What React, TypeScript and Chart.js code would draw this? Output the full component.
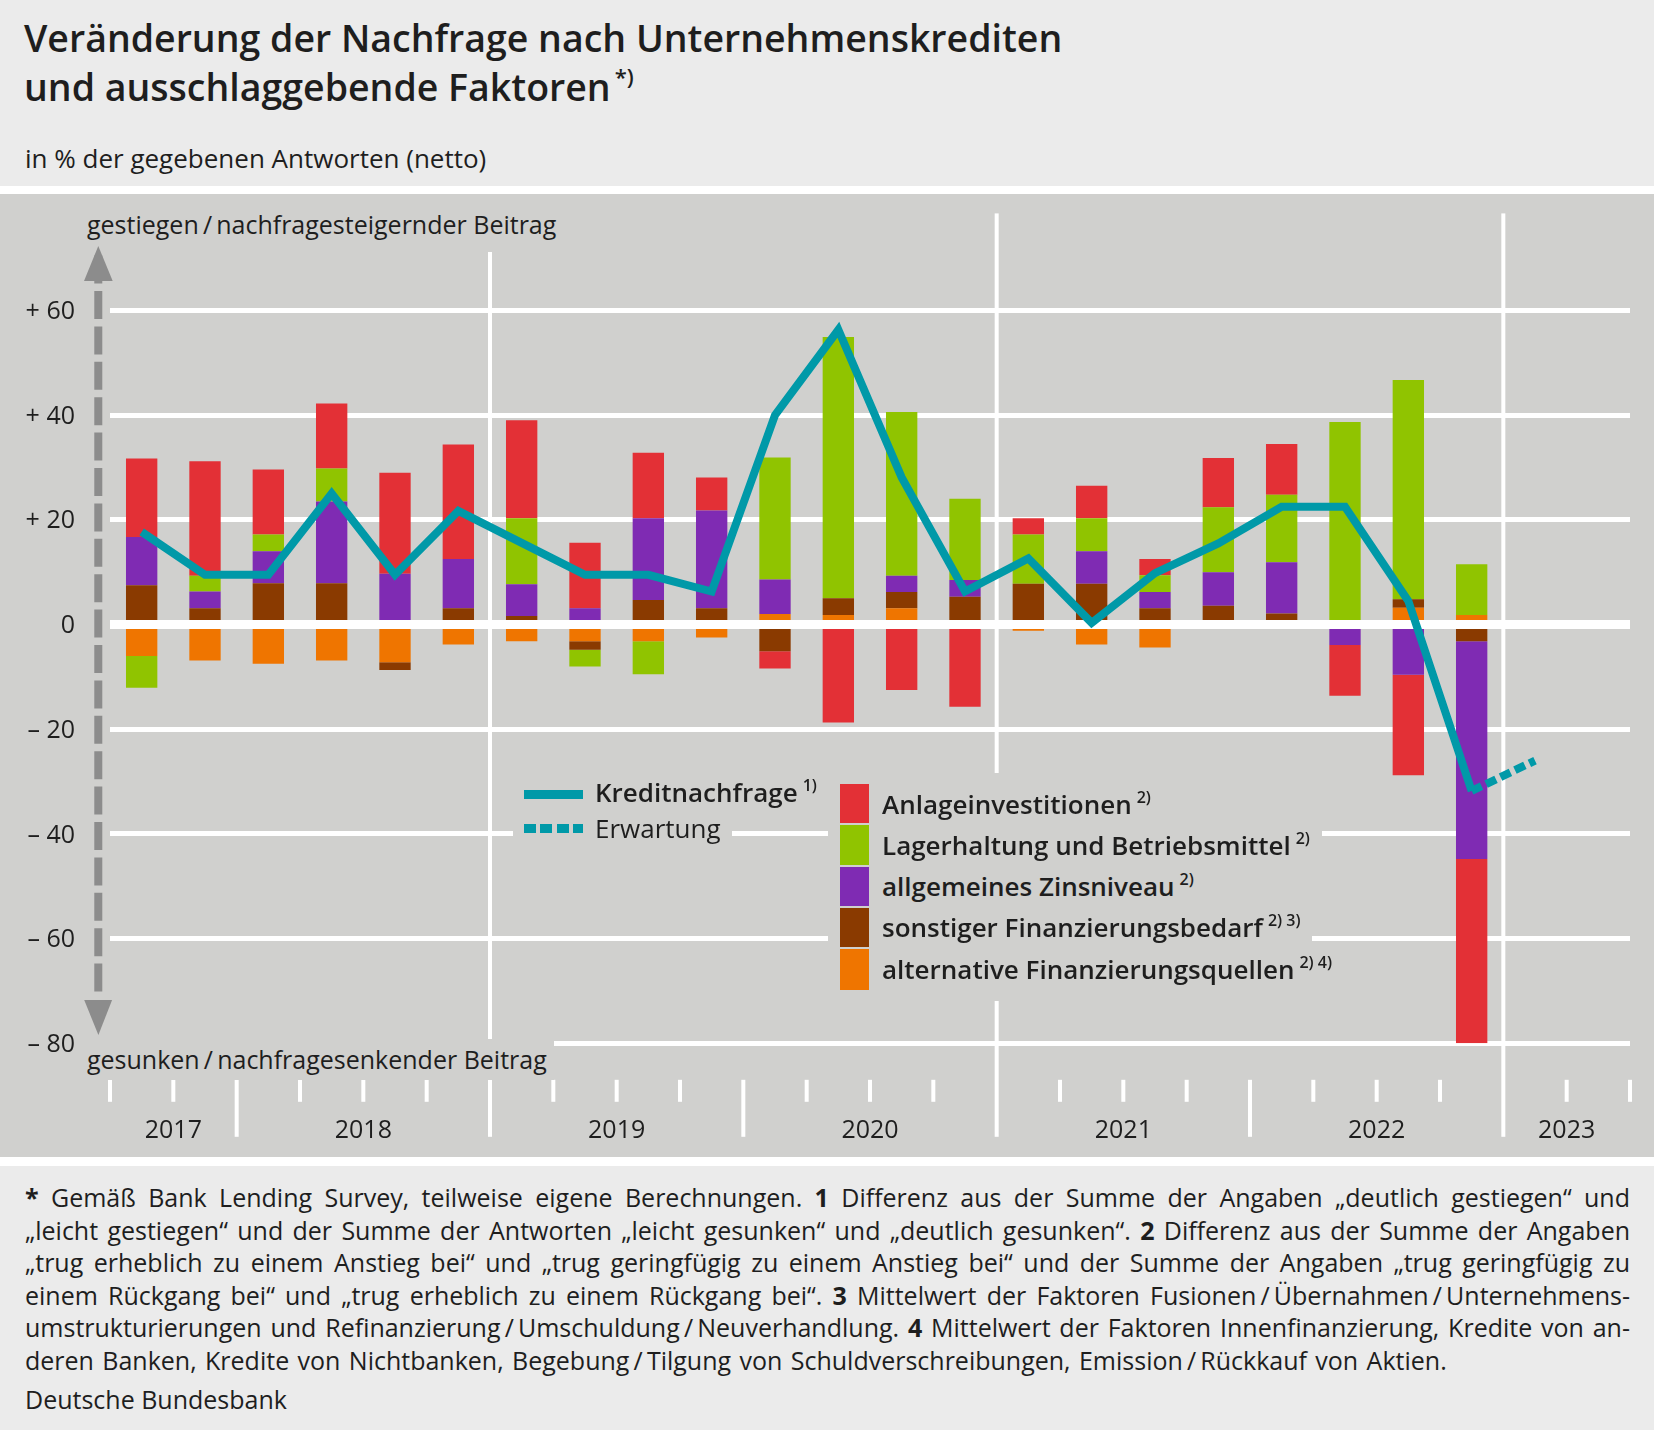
import React, { useEffect, useRef } from "react";
import { Chart, registerables } from "chart.js";

Chart.register(...registerables);

// ---------- data ----------
const quarters = [
  "2017 Q3", "2017 Q4",
  "2018 Q1", "2018 Q2", "2018 Q3", "2018 Q4",
  "2019 Q1", "2019 Q2", "2019 Q3", "2019 Q4",
  "2020 Q1", "2020 Q2", "2020 Q3", "2020 Q4",
  "2021 Q1", "2021 Q2", "2021 Q3", "2021 Q4",
  "2022 Q1", "2022 Q2", "2022 Q3", "2022 Q4",
  "2023 Q1", "2023 Q2",
];

const anlageinvestitionen = [15.0, 21.9, 12.4, 12.4, 19.3, 21.9, 18.7, 12.5, 12.5, 6.3, -3.3, -18.7, -12.5, -15.7, 3.1, 6.2, 3.1, 9.4, 9.7, -9.7, -19.2, -35.2, null, null];
const lagerhaltung = [-6.1, 3.0, 3.2, 6.3, 0, 0, 12.6, -3.2, -6.3, 0, 23.3, 49.9, 31.3, 15.5, 9.4, 6.3, 3.2, 12.4, 12.9, 38.7, 41.9, 9.7, null, null];
const zinsniveau = [9.2, 3.2, 6.1, 15.6, 9.7, 9.4, 6.1, 3.1, 15.6, 18.7, 6.6, 0, 3.1, 3.2, 0, 6.2, 3.1, 6.4, 9.8, -3.9, -9.6, -41.6, null, null];
const sonstigerBedarf = [7.5, 3.1, 7.9, 7.9, -1.5, 3.1, 1.6, -1.6, 4.7, 3.1, -5.1, 3.2, 3.1, 5.3, 7.8, 7.8, 3.1, 3.6, 2.1, 0, 1.6, -3.2, null, null];
const alternativeQuellen = [-6.0, -6.9, -7.5, -6.9, -7.2, -3.8, -3.2, -3.2, -3.2, -2.5, 2.0, 1.8, 3.1, 0, -1.2, -3.8, -4.4, 0, 0, 0, 3.2, 1.8, null, null];

const kreditnachfrage = [17.7, 9.5, 9.5, 25.0, 9.5, 21.7, 15.6, 9.5, 9.5, 6.3, 40.0, 56.3, 28.1, 6.3, 12.6, 0.3, 9.8, 15.5, 22.5, 22.5, 4.5, -31.8, null, null];
const erwartung = [null, null, null, null, null, null, null, null, null, null, null, null, null, null, null, null, null, null, null, null, null, -31.8, -26.0, null];

const yTicks = [60, 40, 20, 0, -20, -40, -60, -80];
const yTickLabels = ["+ 60", "+ 40", "+ 20", "0", "\u2013 20", "\u2013 40", "\u2013 60", "\u2013 80"];
const fullLineYears = ["2019", "2021", "2023"];

// ---------- styles ----------
const C_RED = "#e33036";
const C_GREEN = "#90c400";
const C_PURPLE = "#7f2bb3";
const C_BROWN = "#8a3a00";
const C_ORANGE = "#ef7500";
const C_TEAL = "#0099a8";
const PLOT_BG = "#d0d0ce";
const TEXT = "#1e1e1e";
const FONT = '"Open Sans", "Noto Sans", sans-serif';

const barSeries = [
  { label: "alternative Finanzierungsquellen", data: alternativeQuellen, color: C_ORANGE },
  { label: "sonstiger Finanzierungsbedarf", data: sonstigerBedarf, color: C_BROWN },
  { label: "allgemeines Zinsniveau", data: zinsniveau, color: C_PURPLE },
  { label: "Lagerhaltung und Betriebsmittel", data: lagerhaltung, color: C_GREEN },
  { label: "Anlageinvestitionen", data: anlageinvestitionen, color: C_RED },
];

const legendRows = [
  { label: "Anlageinvestitionen", sup: "2)", color: C_RED },
  { label: "Lagerhaltung und Betriebsmittel", sup: "2)", color: C_GREEN },
  { label: "allgemeines Zinsniveau", sup: "2)", color: C_PURPLE },
  { label: "sonstiger Finanzierungsbedarf", sup: "2) 3)", color: C_BROWN },
  { label: "alternative Finanzierungsquellen", sup: "2) 4)", color: C_ORANGE },
];

const decorPlugin = {
  id: "decor",
  beforeDraw(chart: any) {
    chart.$zeroDrawn = false;
  },
  beforeDatasetsDraw(chart: any) {
    const { ctx, chartArea } = chart;
    const x = chart.scales.x;
    const y = chart.scales.y;
    const step = x.getPixelForValue(1) - x.getPixelForValue(0);
    const start = x.getPixelForValue(0) - step / 2;
    ctx.save();
    ctx.fillStyle = "#ffffff";
    for (let k = 0; k <= quarters.length; k++) {
      const px = start + k * step;
      const q = quarters[k];
      const isYear = !!q && q.endsWith("Q1");
      const yr = q ? q.slice(0, 4) : "";
      if (isYear && fullLineYears.includes(yr)) {
        const top = chartArea.top - 97;
        ctx.fillRect(px - 2, top, 4, chartArea.bottom + 93.5 - top);
      } else if (isYear) {
        ctx.fillRect(px - 2, chartArea.bottom + 36.5, 4, 57);
      } else {
        ctx.fillRect(px - 2, chartArea.bottom + 36.5, 4, 22);
      }
    }
    ctx.fillStyle = TEXT;
    ctx.font = `400 25px ${FONT}`;
    ctx.textAlign = "right";
    ctx.textBaseline = "middle";
    yTicks.forEach((v, i) => {
      ctx.fillText(yTickLabels[i], 75, y.getPixelForValue(v) + 1.5);
    });
    ctx.textAlign = "center";
    const years: string[] = [];
    quarters.forEach((q) => {
      const yr = q.slice(0, 4);
      if (!years.includes(yr)) years.push(yr);
    });
    years.forEach((yr) => {
      const idx = quarters.map((q, i) => (q.startsWith(yr) ? i : -1)).filter((i) => i >= 0);
      const cx = (x.getPixelForValue(idx[0]) + x.getPixelForValue(idx[idx.length - 1])) / 2;
      ctx.fillText(yr, cx, chartArea.bottom + 88);
    });
    ctx.restore();
  },
  beforeDatasetDraw(chart: any, args: any) {
    if (!chart.$zeroDrawn && chart.data.datasets[args.index].type === "line") {
      const { ctx, chartArea } = chart;
      const y0 = chart.scales.y.getPixelForValue(0);
      ctx.save();
      ctx.fillStyle = "#ffffff";
      ctx.fillRect(chartArea.left, y0 - 4.5, chartArea.right - chartArea.left, 9);
      ctx.restore();
      chart.$zeroDrawn = true;
    }
  },
};

const footerLines: React.ReactNode[] = [
  <><b>*</b> Gemäß Bank Lending Survey, teilweise eigene Berechnungen. <b>1</b> Differenz aus der Summe der Angaben „deutlich gestiegen“ und</>,
  <>„leicht gestiegen“ und der Summe der Antworten „leicht gesunken“ und „deutlich gesunken“. <b>2</b> Differenz aus der Summe der Angaben</>,
  <>„trug erheblich zu einem Anstieg bei“ und „trug geringfügig zu einem Anstieg bei“ und der Summe der Angaben „trug geringfügig zu</>,
  <>einem Rückgang bei“ und „trug erheblich zu einem Rückgang bei“. <b>3</b> Mittelwert der Faktoren Fusionen{"\u2009/\u2009"}Übernahmen{"\u2009/\u2009"}Unternehmens-</>,
  <>umstrukturierungen und Refinanzierung{"\u2009/\u2009"}Umschuldung{"\u2009/\u2009"}Neuverhandlung. <b>4</b> Mittelwert der Faktoren Innenfinanzierung, Kredite von an-</>,
  <>deren Banken, Kredite von Nichtbanken, Begebung{"\u2009/\u2009"}Tilgung von Schuldverschreibungen, Emission{"\u2009/\u2009"}Rückkauf von Aktien.</>,
];

export default function App() {
  const ref = useRef<HTMLCanvasElement>(null);

  useEffect(() => {
    document.body.style.margin = "0";
    const canvas = ref.current;
    if (!canvas) return;
    const chart = new Chart(canvas, {
      type: "bar",
      data: {
        labels: quarters,
        datasets: [
          ...barSeries.map((s) => ({
            type: "bar" as const,
            label: s.label,
            data: s.data,
            backgroundColor: s.color,
            borderWidth: 0,
            stack: "bars",
            order: 10,
            barPercentage: 1,
            categoryPercentage: 0.495,
          })),
          {
            type: "line" as const,
            label: "Kreditnachfrage",
            data: kreditnachfrage,
            borderColor: C_TEAL,
            backgroundColor: C_TEAL,
            borderWidth: 8,
            pointRadius: 0,
            tension: 0,
            borderJoinStyle: "miter" as const,
            borderCapStyle: "butt" as const,
            spanGaps: false,
            stack: "l1",
            order: 0,
          },
          {
            type: "line" as const,
            label: "Erwartung",
            data: erwartung,
            borderColor: C_TEAL,
            backgroundColor: C_TEAL,
            borderWidth: 8,
            borderDash: [11, 5],
            pointRadius: 0,
            tension: 0,
            borderCapStyle: "butt" as const,
            spanGaps: false,
            stack: "l2",
            order: 1,
          },
        ],
      } as any,
      options: {
        animation: false,
        responsive: false,
        maintainAspectRatio: false,
        layout: { padding: { left: 110, right: 24, top: 116.4, bottom: 113.7 } },
        plugins: { legend: { display: false }, tooltip: { enabled: false } },
        scales: {
          x: { type: "category", display: false, stacked: true, offset: true },
          y: {
            stacked: true,
            min: -80,
            max: 60,
            ticks: { display: false, stepSize: 20 },
            border: { display: false },
            grid: {
              drawTicks: false,
              color: (c: any) => (c.tick && c.tick.value === 0 ? "rgba(0,0,0,0)" : "#ffffff"),
              lineWidth: 5,
            },
          },
        },
      } as any,
      plugins: [decorPlugin as any],
    });
    return () => chart.destroy();
  }, []);

  const sup = (t: string, size = 16, top = -11) => (
    <span style={{ fontSize: size, position: "relative", top, marginLeft: 5, fontWeight: 600 }}>{t}</span>
  );

  return (
    <div
      style={{
        position: "absolute",
        left: 0,
        top: 0,
        width: 1654,
        height: 1430,
        background: "#ebebeb",
        fontFamily: FONT,
        color: TEXT,
        overflow: "hidden",
      }}
    >
      {/* title */}
      <div style={{ position: "absolute", left: 24, top: 13, fontSize: 37.5, fontWeight: 600, lineHeight: "49.4px", whiteSpace: "nowrap" }}>
        <div>Veränderung der Nachfrage nach Unternehmenskrediten</div>
        <div>
          und ausschlaggebende Faktoren
          <span style={{ fontSize: 22, position: "relative", top: -16, marginLeft: 4 }}>*)</span>
        </div>
      </div>
      <div style={{ position: "absolute", left: 25, top: 143, fontSize: 26, lineHeight: "30px", whiteSpace: "nowrap" }}>
        in % der gegebenen Antworten (netto)
      </div>

      {/* bands */}
      <div style={{ position: "absolute", left: 0, top: 185.5, width: 1654, height: 980, background: "#ffffff" }} />
      <div style={{ position: "absolute", left: 0, top: 194, width: 1654, height: 963, background: PLOT_BG }} />

      <canvas ref={ref} width={1654} height={963} style={{ position: "absolute", left: 0, top: 194, width: 1654, height: 963 }} />

      {/* axis captions (masking) */}
      <div style={{ position: "absolute", left: 80, top: 200, padding: "8.5px 8px 13.5px 7px", fontSize: 25, lineHeight: "30px", background: PLOT_BG, whiteSpace: "nowrap" }}>
        gestiegen{"\u2009/\u2009"}nachfragesteigernder Beitrag
      </div>
      <div style={{ position: "absolute", left: 80, top: 1039, padding: "4.5px 7px 6.5px 7px", fontSize: 25, lineHeight: "30px", background: PLOT_BG, whiteSpace: "nowrap" }}>
        gesunken{"\u2009/\u2009"}nachfragesenkender Beitrag
      </div>

      {/* arrow */}
      <svg width={40} height={820} style={{ position: "absolute", left: 78, top: 240 }}>
        <line x1={20.3} y1={15.6} x2={20.3} y2={752.7} stroke="#8c8c8c" strokeWidth={8} strokeDasharray="28 7.4" />
        <polygon points="20.3,6 6,41 34.7,41" fill="#8c8c8c" />
        <polygon points="6.2,760 34.1,760 20.4,795" fill="#8c8c8c" />
      </svg>

      {/* line legend */}
      <div style={{ position: "absolute", left: 513, top: 775, height: 39, padding: "0 11px", display: "flex", alignItems: "center", background: PLOT_BG, whiteSpace: "nowrap" }}>
        <div style={{ width: 59, height: 9, background: C_TEAL }} />
        <span style={{ marginLeft: 12, fontSize: 26, fontWeight: 600, lineHeight: "39px" }}>
          Kreditnachfrage{sup("1)")}
        </span>
      </div>
      <div style={{ position: "absolute", left: 513, top: 813, height: 31, padding: "0 11px", display: "flex", alignItems: "center", background: PLOT_BG, whiteSpace: "nowrap" }}>
        <div style={{ width: 59, height: 9, background: `repeating-linear-gradient(90deg, ${C_TEAL} 0px, ${C_TEAL} 12px, transparent 12px, transparent 16.5px)` }} />
        <span style={{ marginLeft: 12, fontSize: 26, fontWeight: 400, lineHeight: "31px" }}>Erwartung</span>
      </div>

      {/* bar legend */}
      {legendRows.map((r, i) => {
        const pt = i === 0 ? 9 : 0;
        const pb = i === legendRows.length - 1 ? 9 : 0;
        return (
          <div
            key={r.label}
            style={{
              position: "absolute",
              left: 828,
              top: 782 + i * 41.25 - pt,
              padding: `${pt}px 12px ${pb}px 12px`,
              display: "flex",
              alignItems: "center",
              background: PLOT_BG,
              whiteSpace: "nowrap",
            }}
          >
            <div style={{ width: 29, height: 41.25, background: r.color }} />
            <span style={{ marginLeft: 13, fontSize: 26, fontWeight: 600, lineHeight: "41.25px", position: "relative", top: 1.5 }}>
              {r.label}
              {sup(r.sup, 16, -11)}
            </span>
          </div>
        );
      })}

      {/* footer */}
      <div style={{ position: "absolute", left: 25, top: 1181, width: 1605, fontSize: 25, lineHeight: "32.5px" }}>
        {footerLines.map((l, i) => {
          const last = i === footerLines.length - 1;
          return (
            <div
              key={i}
              style={{
                textAlign: last ? "left" : "justify",
                textAlignLast: last ? "left" : "justify",
                wordSpacing: last ? 1.9 : 0,
              } as any}
            >
              {l}
            </div>
          );
        })}
      </div>
      <div style={{ position: "absolute", left: 25, top: 1383, fontSize: 25, lineHeight: "32.5px" }}>Deutsche Bundesbank</div>
    </div>
  );
}
